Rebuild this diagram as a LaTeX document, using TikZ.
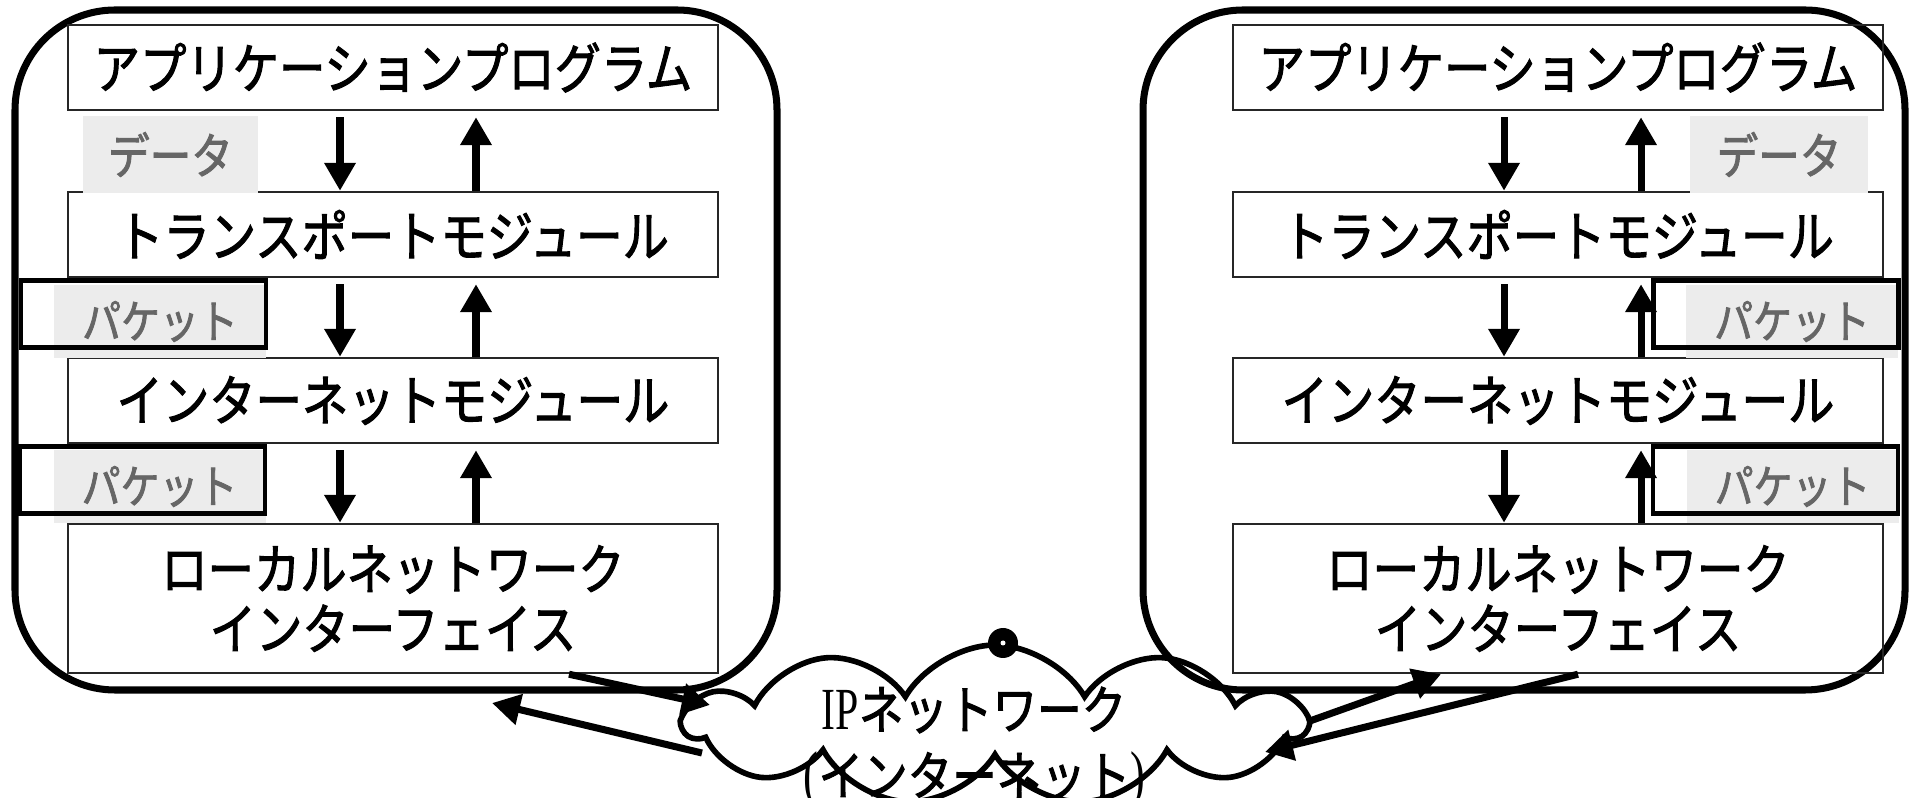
\documentclass[tikz,border=0pt]{standalone}
\usepackage{fontspec}
\setmainfont{Liberation Serif}
\newfontfamily\jpfont[FakeStretch=0.845, FakeBold=1.8]{Noto Sans CJK JP}
\newfontfamily\ipfont[FakeStretch=0.7]{Liberation Serif}
\usetikzlibrary{arrows.meta,shapes.symbols}
\definecolor{grisfond}{HTML}{ECECEC}
\definecolor{gristexte}{HTML}{666666}

\begin{document}
\begin{tikzpicture}[
    hote/.style={draw=black, line width=2pt, rounded corners=1cm, minimum width=7.62cm, minimum height=6.8cm},
    module/.style={draw=black!85, line width=0.7pt, minimum width=6.5cm, minimum height=0.85cm, inner sep=0pt, font=\jpfont\fontsize{15.6}{17}\selectfont},
    etiquette/.style={fill=grisfond, text=gristexte, inner sep=0pt, minimum height=0.77cm, font=\jpfont\fontsize{14}{15}\selectfont},
    paquet/.style={etiquette, minimum width=2.12cm, minimum height=0.73cm, font=\jpfont\fontsize{13.1}{14}\selectfont},
    cadre/.style={draw=black, line width=1.3pt, minimum width=2.45cm, minimum height=0.67cm, inner sep=0pt},
    fleche/.style={line width=2pt, -{Triangle[width=0.3cm,length=0.28cm]}},
    nuage/.style={cloud, draw=black, line width=1.6pt, cloud puffs=11, cloud puff arc=120, aspect=3.9, minimum width=6.2cm, minimum height=1.6cm}]
    \useasboundingbox (0,0) rectangle (19.12,-7.98);

    \node[hote] (hoteG) at (3.96, -3.50) {};
    \node[hote] (hoteD) at (15.24, -3.50) {};

    \node[module] (appG) at (3.93, -0.675) {アプリケーションプログラム};
    \node[module] (transG) at (3.93, -2.345) {トランスポートモジュール};
    \node[module] (interG) at (3.93, -4.005) {インターネットモジュール};
    \node[module, minimum height=1.49cm, align=center] (localG) at (3.93, -5.985) {ローカルネットワーク\\インターフェイス};

    \node[module] (appD) at (15.58, -0.675) {アプリケーションプログラム};
    \node[module] (transD) at (15.58, -2.345) {トランスポートモジュール};
    \node[module] (interD) at (15.58, -4.005) {インターネットモジュール};
    \node[module, minimum height=1.49cm, align=center] (localD) at (15.58, -5.985) {ローカルネットワーク\\インターフェイス};

    \draw[fleche, shorten <=0.06cm] ([xshift=-0.53cm]appG.south) to ([xshift=-0.53cm]transG.north);
    \draw[fleche, shorten <=0.06cm] ([xshift=-0.53cm]transG.south) to ([xshift=-0.53cm]interG.north);
    \draw[fleche, shorten <=0.06cm] ([xshift=-0.53cm]interG.south) to ([xshift=-0.53cm]localG.north);
    \draw[fleche, shorten >=0.06cm] ([xshift=0.83cm]transG.north) to ([xshift=0.83cm]appG.south);
    \draw[fleche, shorten >=0.06cm] ([xshift=0.83cm]interG.north) to ([xshift=0.83cm]transG.south);
    \draw[fleche, shorten >=0.06cm] ([xshift=0.83cm]localG.north) to ([xshift=0.83cm]interG.south);

    \draw[fleche, shorten <=0.06cm] ([xshift=-0.54cm]appD.south) to ([xshift=-0.54cm]transD.north);
    \draw[fleche, shorten <=0.06cm] ([xshift=-0.54cm]transD.south) to ([xshift=-0.54cm]interD.north);
    \draw[fleche, shorten <=0.06cm] ([xshift=-0.54cm]interD.south) to ([xshift=-0.54cm]localD.north);
    \draw[fleche, shorten >=0.06cm] ([xshift=0.83cm]transD.north) to ([xshift=0.83cm]appD.south);
    \draw[fleche, shorten >=0.06cm] ([xshift=0.83cm]interD.north) to ([xshift=0.83cm]transD.south);
    \draw[fleche, shorten >=0.06cm] ([xshift=0.83cm]localD.north) to ([xshift=0.83cm]interD.south);

    \node[etiquette, minimum width=1.75cm] (donneesG) at (1.705, -1.545) {データ};
    \node[etiquette, minimum width=1.78cm] (donneesD) at (17.79, -1.545) {データ};

    \node[paquet] (paquetG1) at (1.60, -3.215) {パケット};
    \node[paquet] (paquetG2) at (1.595, -4.865) {パケット};
    \node[paquet] (paquetD1) at (17.92, -3.215) {パケット};
    \node[paquet] (paquetD2) at (17.925, -4.865) {パケット};
    \node[cadre] (cadreG1) at (1.435, -3.14) {};
    \node[cadre] (cadreG2) at (1.425, -4.80) {};
    \node[cadre] (cadreD1) at (17.76, -3.14) {};
    \node[cadre] (cadreD2) at (17.755, -4.80) {};

    \node[nuage] (reseau) at (9.95, -7.25) {};
    \fill (10.03, -6.43) circle (0.15);
    \fill[white] (10.03, -6.43) circle (0.025);
    \node[inner sep=0pt, font=\jpfont\fontsize{15}{17}\selectfont] (ipNom) at (9.74, -7.10) {{\ipfont\fontsize{17}{20}\selectfont IP}ネットワーク};
    \node[inner sep=0pt, font=\jpfont\fontsize{15}{17}\selectfont] (ipInter) at (9.745, -7.80) {{\ipfont\fontsize{18}{20}\selectfont (}インターネット{\ipfont\fontsize{18}{20}\selectfont )}};

    \coordinate (entreeG) at (7.10, -7.05);
    \coordinate (sortieG) at (7.02, -7.53);
    \coordinate (pointeG) at (4.92, -7.03);
    \coordinate (sortieD) at (13.07, -7.22);
    \coordinate (pointeD) at (12.65, -7.52);

    \draw[fleche] ([xshift=1.76cm]localG.south) to (entreeG);
    \draw[fleche] (sortieG) to (pointeG);
    \draw[fleche] (sortieD) to ([xshift=-1.17cm]localD.south);
    \draw[fleche] ([xshift=0.20cm]localD.south) to (pointeD);
\end{tikzpicture}
\end{document}
